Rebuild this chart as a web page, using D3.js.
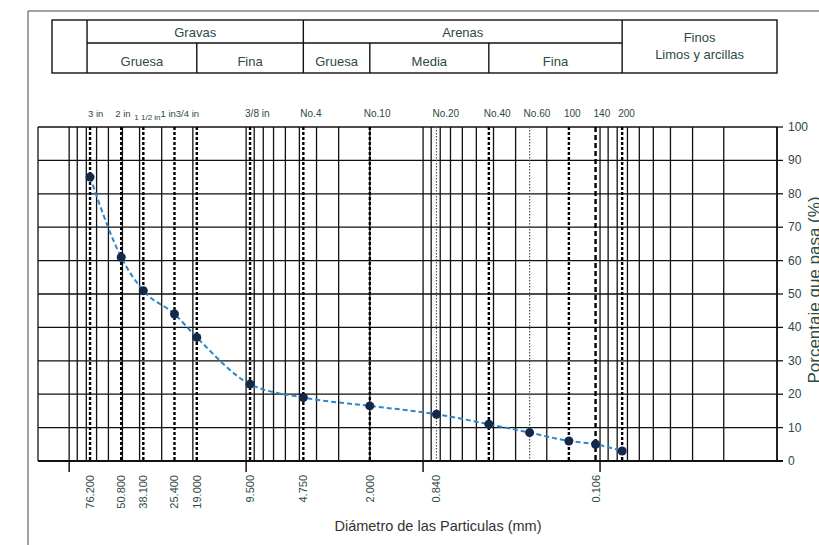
<!DOCTYPE html>
<html>
<head>
<meta charset="utf-8">
<script src="https://cdn.jsdelivr.net/npm/d3@7.9.0/dist/d3.min.js"></script>
<style>
  body { margin: 0; background: #fff; }
  svg { display: block; }
  text { font-family: "Liberation Sans", Arial, sans-serif; }
</style>
</head>
<body>
<div id="chart"></div>
<script>
// sieve data
const sieveLabels = ["3 in", "2 in", "1 1/2 in", "1 in", "3/4 in", "3/8 in", "No.4", "No.10", "No.20", "No.40", "No.60", "100", "140", "200"];
const sieveSizes = [76.2, 50.8, 38.1, 25.4, 19.0, 9.5, 4.75, 2.0, 0.84, 0.425, 0.25, 0.15, 0.106, 0.075];
const percentPassing = [85, 61, 51, 44, 37, 23, 19, 16.5, 14, 11, 8.5, 6, 5, 3];

// rotated labels under the axis
const bottomLabels = ["76.200", "50.800", "38.100", "25.400", "19.000", "9.500", "4.750", "2.000", "0.840", "0.106"];
const bottomSizes = [76.2, 50.8, 38.1, 25.4, 19.0, 9.5, 4.75, 2.0, 0.84, 0.106];

const yTicks = [0, 10, 20, 30, 40, 50, 60, 70, 80, 90, 100];
const decadeTicks = [100, 10, 1, 0.1];

// classification table (boundaries in mm)
const topRow = [
  { name: "Gravas", from: 76.2, to: 4.75 },
  { name: "Arenas", from: 4.75, to: 0.075 }
];
const bottomRow = [
  { name: "Gruesa", from: 76.2, to: 19.0 },
  { name: "Fina", from: 19.0, to: 4.75 },
  { name: "Gruesa", from: 4.75, to: 2.0 },
  { name: "Media", from: 2.0, to: 0.425 },
  { name: "Fina", from: 0.425, to: 0.075 }
];

// styling of the sieve lines / label nudges (px from the line, text starts there)
const dottedSieves = ["No.20", "No.60"];
const labelNudge = { "3 in": -2, "2 in": -6, "1 1/2 in": -9, "1 in": -14, "3/4 in": -21, "3/8 in": -5, "No.4": -3, "No.10": -6, "No.20": -4, "No.40": -5, "No.60": -6, "100": -5, "140": -2, "200": -4 };

const width = 819, height = 545;
const textColor = "#2c4a44";

const svg = d3.select("#chart").append("svg")
  .attr("width", width).attr("height", height);

const x = d3.scaleLog().domain([150, 0.01]).range([38, 777]);
const y = d3.scaleLinear().domain([0, 100]).range([461, 127]);

// page frame
svg.append("path")
  .attr("d", `M28,${height} V11 H${width}`)
  .attr("fill", "none").attr("stroke", "#444").attr("stroke-width", 1);

// ---- header table ----
const tTop = 20, tMid = 43, tBot = 73, tLeft = 52, tRight = x(0.01);
const table = svg.append("g").attr("stroke", "#111").attr("stroke-width", 1.4).attr("fill", "none");
table.append("rect").attr("x", tLeft).attr("y", tTop).attr("width", tRight - tLeft).attr("height", tBot - tTop);
table.append("line").attr("x1", x(76.2) - 3).attr("x2", x(76.2) - 3).attr("y1", tTop).attr("y2", tBot);
table.append("line").attr("x1", x(76.2) - 3).attr("x2", x(0.075)).attr("y1", tMid).attr("y2", tMid);
[4.75, 0.075].forEach(d => {
  table.append("line").attr("x1", x(d)).attr("x2", x(d)).attr("y1", tTop).attr("y2", tBot);
});
[19.0, 2.0, 0.425].forEach(d => {
  table.append("line").attr("x1", x(d)).attr("x2", x(d)).attr("y1", tMid).attr("y2", tBot);
});

const tText = svg.append("g").attr("fill", textColor).attr("font-size", 13).attr("text-anchor", "middle");
topRow.forEach(d => {
  const x0 = d.from === 76.2 ? x(76.2) - 3 : x(d.from);
  tText.append("text").attr("x", (x0 + x(d.to)) / 2).attr("y", 37).text(d.name);
});
bottomRow.forEach(d => {
  const x0 = d.from === 76.2 ? x(76.2) - 3 : x(d.from);
  tText.append("text").attr("x", (x0 + x(d.to)) / 2).attr("y", 66).text(d.name);
});
tText.append("text").attr("x", (x(0.075) + tRight) / 2).attr("y", 42).text("Finos");
tText.append("text").attr("x", (x(0.075) + tRight) / 2).attr("y", 59).text("Limos y arcillas");

// ---- grid ----
const grid = svg.append("g").attr("stroke", "#111").attr("stroke-width", 1.3);
grid.selectAll("line.v")
  .data(x.ticks())
  .join("line")
  .attr("x1", d => x(d)).attr("x2", d => x(d))
  .attr("y1", y(100)).attr("y2", y(0));
grid.selectAll("line.h")
  .data(yTicks)
  .join("line")
  .attr("x1", 38).attr("x2", x(0.01))
  .attr("y1", d => y(d)).attr("y2", d => y(d));
grid.append("line").attr("x1", 38).attr("x2", 38).attr("y1", y(100)).attr("y2", y(0));

// sieve lines
const sieves = sieveLabels.map((l, i) => ({ label: l, size: sieveSizes[i], pass: percentPassing[i] }));
svg.append("g").selectAll("line")
  .data(sieves)
  .join("line")
  .attr("x1", d => x(d.size)).attr("x2", d => x(d.size))
  .attr("y1", y(100)).attr("y2", y(0))
  .attr("stroke", d => dottedSieves.includes(d.label) ? "#555" : "#000")
  .attr("stroke-width", d => dottedSieves.includes(d.label) ? 1.2 : 2.4)
  .attr("stroke-dasharray", d => dottedSieves.includes(d.label) ? "1.5,1.5" : (d.label === "140" ? "5,3" : "3,2"));

// bottom axis
svg.append("line").attr("x1", 38).attr("x2", x(0.01) + 6).attr("y1", y(0)).attr("y2", y(0))
  .attr("stroke", "#111").attr("stroke-width", 1.8);
svg.append("g").selectAll("line")
  .data(decadeTicks)
  .join("line")
  .attr("x1", d => x(d)).attr("x2", d => x(d))
  .attr("y1", y(0)).attr("y2", y(0) + 11)
  .attr("stroke", "#111").attr("stroke-width", 1.5);

svg.append("g").attr("font-size", 11).attr("fill", textColor)
  .selectAll("text")
  .data(bottomLabels)
  .join("text")
  .attr("text-anchor", "end")
  .attr("transform", (d, i) => `translate(${x(bottomSizes[i]) + 4},475) rotate(-90)`)
  .text(d => d);

// right axis
const yAxis = svg.append("g");
yAxis.append("line").attr("x1", x(0.01)).attr("x2", x(0.01)).attr("y1", y(100)).attr("y2", y(0))
  .attr("stroke", "#111").attr("stroke-width", 1.6);
yAxis.selectAll("line.t")
  .data(yTicks)
  .join("line")
  .attr("x1", x(0.01)).attr("x2", x(0.01) + 6)
  .attr("y1", d => y(d)).attr("y2", d => y(d))
  .attr("stroke", "#111").attr("stroke-width", 1.3);
yAxis.selectAll("text")
  .data(yTicks)
  .join("text")
  .attr("x", x(0.01) + 11).attr("y", d => y(d) + 4)
  .attr("font-size", 12).attr("fill", textColor)
  .text(d => d);

// sieve names on top
svg.append("g")
  .attr("fill", textColor)
  .selectAll("text")
  .data(sieves)
  .join("text")
  .attr("x", d => x(d.size) + (labelNudge[d.label] || 0))
  .attr("y", d => d.label === "1 1/2 in" ? 120 : 117)
  .attr("font-size", d => d.label === "1 1/2 in" ? 8 : (["1 in", "3/4 in", "3 in", "2 in"].includes(d.label) ? 9.5 : 10))
  .style("font-family", d => ["1 1/2 in", "1 in", "3/4 in"].includes(d.label) ? "'Liberation Sans Narrow', 'Liberation Sans', sans-serif" : null)
  .text(d => d.label);

// gradation curve
const line = d3.line()
  .x(d => x(d.size))
  .y(d => y(d.pass))
  .curve(d3.curveMonotoneX);
svg.append("path")
  .datum(sieves)
  .attr("d", line)
  .attr("fill", "none")
  .attr("stroke", "#2f86c8")
  .attr("stroke-width", 2)
  .attr("stroke-dasharray", "5,3");
svg.append("g").selectAll("circle")
  .data(sieves)
  .join("circle")
  .attr("cx", d => x(d.size)).attr("cy", d => y(d.pass))
  .attr("r", 4.5)
  .attr("fill", "#14284a");

// titles
svg.append("text")
  .attr("x", 438).attr("y", 531)
  .attr("text-anchor", "middle").attr("font-size", 14.5).attr("fill", "#333")
  .text("Diámetro de las Particulas (mm)");
// cut off at the right edge, as in the scan
svg.append("text")
  .attr("transform", `translate(820,290) rotate(-90)`)
  .attr("text-anchor", "middle").attr("font-size", 17).attr("fill", textColor)
  .text("Porcentaje que pasa (%)");
</script>
</body>
</html>
